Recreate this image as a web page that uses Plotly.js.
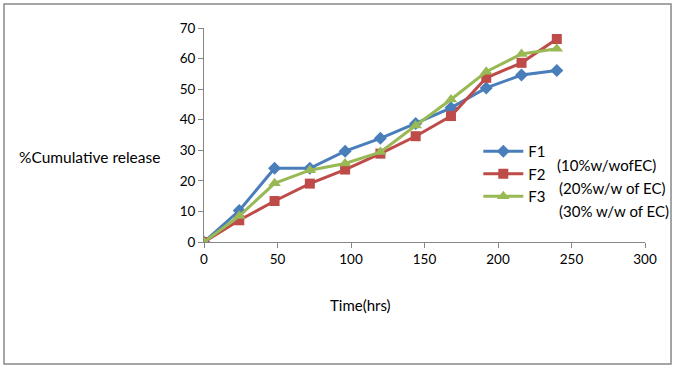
<!DOCTYPE html>
<html><head><meta charset="utf-8">
<script src="https://cdn.plot.ly/plotly-3.0.1.min.js"></script>
<style>html,body{margin:0;padding:0;background:#fff}#c{width:678px;height:369px}</style>
</head><body><div id="c"></div>
<script>
const time = [0, 24, 48, 72, 96, 120, 144, 168, 192, 216, 240];
const f1 = [0, 10.3, 24.1, 24.1, 29.7, 33.9, 38.8, 43.9, 50.4, 54.6, 56.1];
const f2 = [0, 7.1, 13.4, 19.1, 23.7, 28.9, 34.6, 41.2, 53.7, 58.6, 66.4];
const f3 = [0, 8.5, 19.2, 23.5, 25.7, 29.4, 38.1, 46.6, 55.7, 61.5, 63.2];
const seriesNames = ['F1', 'F2', 'F3'];
const notes = ['(10%w/wofEC)', '(20%w/w of EC)', '(30% w/w of EC)'];
const xTitle = 'Time(hrs)';
const yTitle = '%Cumulative release';

const font = "Lato, 'Liberation Sans', sans-serif";
const traces = [
  {x: time, y: f1, name: seriesNames[0], mode: 'lines+markers',
   line: {color: '#4A7EBB', width: 3}, marker: {symbol: 'diamond', size: 10, color: '#4A7EBB'}},
  {x: time, y: f2, name: seriesNames[1], mode: 'lines+markers',
   line: {color: '#BE4B48', width: 3}, marker: {symbol: 'square', size: 10, color: '#BE4B48'}},
  {x: time, y: f3, name: seriesNames[2], mode: 'lines+markers',
   line: {color: '#98B954', width: 3}, marker: {symbol: 'triangle-up', size: 11, color: '#98B954'}}
];
const layout = {
  width: 678, height: 369,
  margin: {l: 204, r: 33, t: 28, b: 127},
  paper_bgcolor: '#fff', plot_bgcolor: '#fff',
  font: {family: font, size: 13, color: '#000'},
  showlegend: true,
  legend: {x: 0.622, y: 0.5, xanchor: 'left', yanchor: 'top', bgcolor: 'rgba(0,0,0,0)',
           font: {family: font, size: 15, color: '#000'}, tracegroupgap: 0, itemwidth: 40},
  xaxis: {range: [0, 300], dtick: 50, showgrid: false, zeroline: false,
          showline: true, linecolor: '#868686', linewidth: 1,
          ticks: 'outside', ticklen: 5, tickcolor: '#868686',
          tickfont: {family: font, size: 13.5, color: '#000'}},
  yaxis: {range: [0, 70], dtick: 10, showgrid: false, zeroline: false,
          showline: true, linecolor: '#868686', linewidth: 1,
          ticks: 'outside', ticklen: 5, tickcolor: '#868686',
          tickfont: {family: font, size: 13.5, color: '#000'}},
  annotations: [
    {text: xTitle, xref: 'paper', yref: 'paper', x: 0.354, y: -0.294, xanchor: 'center', yanchor: 'middle',
     showarrow: false, font: {family: font, size: 15, color: '#000'}},
    {text: yTitle, xref: 'paper', yref: 'paper', x: -0.424, y: 0.397, xanchor: 'left', yanchor: 'middle',
     showarrow: false, font: {family: font, size: 15.5, color: '#000'}},
    {text: notes[0], xref: 'paper', yref: 'paper', x: 0.796, y: 0.36, xanchor: 'left', yanchor: 'middle', showarrow: false,
     font: {family: font, size: 15, color: '#000'}},
    {text: notes[1], xref: 'paper', yref: 'paper', x: 0.80, y: 0.252, xanchor: 'left', yanchor: 'middle', showarrow: false,
     font: {family: font, size: 15, color: '#000'}},
    {text: notes[2], xref: 'paper', yref: 'paper', x: 0.80, y: 0.145, xanchor: 'left', yanchor: 'middle', showarrow: false,
     font: {family: font, size: 15, color: '#000'}}
  ],
  shapes: [
    {type: 'rect', xref: 'paper', yref: 'paper', x0: -0.4535, x1: 1.059, y0: -0.57, y1: 1.112,
     line: {color: '#888', width: 1.5}, fillcolor: 'rgba(0,0,0,0)', layer: 'below'}
  ]
};
Plotly.newPlot('c', traces, layout, {displayModeBar: false, staticPlot: true});
</script></body></html>
